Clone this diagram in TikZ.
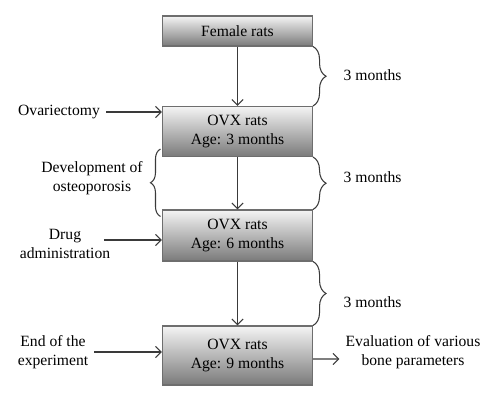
\documentclass[tikz,border=0pt]{standalone}
\usepackage{fontspec}
\setmainfont{Liberation Serif}
\usetikzlibrary{decorations.pathreplacing,arrows.meta}
\definecolor{boxtop}{HTML}{F4F4F4}
\definecolor{boxbot}{HTML}{7A7A7A}
\definecolor{boxline}{HTML}{6E6E6E}
\definecolor{arrline}{HTML}{3A3A3A}
\begin{document}
\begin{tikzpicture}[every node/.style={font=\fontsize{8.9}{10.6}\selectfont, align=center},
  ratbox/.style={draw=boxline, line width=0.6pt, top color=boxtop, bottom color=boxbot, minimum width=3cm, inner sep=0pt},
  arr/.style={-{Straight Barb[length=3.2pt,width=6.4pt]}, draw=arrline, line width=0.6pt},
  brc/.style={draw=arrline, line width=0.6pt, decorate, decoration={brace, amplitude=0.26cm}}]
\useasboundingbox (0,0) rectangle (10,8.06);
\node[ratbox, minimum height=0.6cm] (fem) at (4.75,7.44) {Female rats};
\node[ratbox, minimum height=1cm] (ovx3) at (4.75,5.43) {OVX rats\\Age: 3 months};
\node[ratbox, minimum height=1.02cm] (ovx6) at (4.75,3.35) {OVX rats\\Age: 6 months};
\node[ratbox, minimum height=1.18cm] (ovx9) at (4.75,0.95) {OVX rats\\Age: 9 months};
\node (ovar) at (1.18,5.82) {Ovariectomy};
\node (devo) at (1.84,4.5) {Development of\\osteoporosis};
\node (drug) at (1.30,3.18) {Drug\\administration};
\node (endexp) at (1.06,1.02) {End of the\\experiment};
\node (evalp) at (8.26,1.02) {Evaluation of various\\bone parameters};
\node[anchor=west] (m1) at (6.75,6.56) {3 months};
\node[anchor=west] (m2) at (6.75,4.52) {3 months};
\node[anchor=west] (m3) at (6.75,2.02) {3 months};
\draw[arr] (fem) -- (ovx3);
\draw[arr] (ovx3) -- (ovx6);
\draw[arr] (ovx6) -- (ovx9);
\draw[arr] (ovar) -- (ovar -| ovx3.west);
\draw[arr] ([xshift=-0.25cm,yshift=0.08cm]drug.east) -- ([yshift=0.08cm]drug.east -| ovx6.west);
\draw[arr] (endexp) -- (endexp -| ovx9.west);
\draw[arr] ([yshift=-0.07cm]ovx9.east) -- ([yshift=-0.14cm]evalp.west);
\draw[brc] (fem.south east) -- (ovx3.north east);
\draw[brc] (ovx3.south east) -- (ovx6.north east);
\draw[brc] (ovx6.south east) -- (ovx9.north east);
\draw[brc, decoration={amplitude=0.2cm}] ([xshift=-0.03cm,yshift=-0.14cm]ovx6.north west) -- ([xshift=-0.03cm,yshift=0.16cm]ovx3.south west);
\end{tikzpicture}
\end{document}
